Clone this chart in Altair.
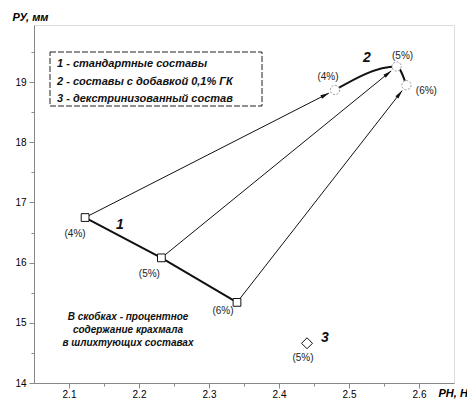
import math
import altair as alt
import pandas as pd

# ---- data ----
pct_labels = ["(4%)", "(5%)", "(6%)"]
s1_x = [2.123, 2.232, 2.340]      # 1 - стандартные составы
s1_y = [16.75, 16.08, 15.34]
s2_x = [2.480, 2.568, 2.582]      # 2 - составы с добавкой 0,1% ГК
s2_y = [18.87, 19.26, 18.95]
s3_x = [2.440]                    # 3 - декстринизованный состав
s3_y = [14.66]
s3_labels = ["(5%)"]

legend_lines = [
    "1 -  стандартные составы",
    "2 -  составы с добавкой 0,1% ГК",
    "3 -  декстринизованный состав",
]
note_lines = [
    "В скобках - процентное",
    "содержание крахмала",
    "в шлихтующих составах",
]

X_DOM = [2.05, 2.65]
Y_DOM = [14.0, 19.95]
W, H = 420, 358
PX_X = W / (X_DOM[1] - X_DOM[0])
PX_Y = H / (Y_DOM[1] - Y_DOM[0])
FONT = "Liberation Sans"

s1 = pd.DataFrame({"x": s1_x, "y": s1_y, "lab": pct_labels, "i": [0, 1, 2]})
s2 = pd.DataFrame({"x": s2_x, "y": s2_y, "lab": pct_labels, "i": [0, 1, 2]})
s3 = pd.DataFrame({"x": s3_x, "y": s3_y, "lab": s3_labels})

# arrows from series 1 to series 2 (tip stops a little before the target)
rows = []
for a, b, c, d in zip(s1_x, s1_y, s2_x, s2_y):
    dxp = (c - a) * PX_X
    dyp = -(d - b) * PX_Y
    L = math.hypot(dxp, dyp)
    ux, uy = dxp / L, dyp / L
    gap, back = 7.0, 4.0
    tip_x = c - ux * gap / PX_X
    tip_y = d + uy * gap / PX_Y
    hx = c - ux * (gap + back) / PX_X
    hy = d + uy * (gap + back) / PX_Y
    ang = math.degrees(math.atan2(ux, -uy)) % 360
    rows.append({"x": a, "y": b, "x2": tip_x, "y2": tip_y, "hx": hx, "hy": hy, "ang": ang})
arrows = pd.DataFrame(rows)

xs = alt.Scale(domain=X_DOM, nice=False, zero=False)
ys = alt.Scale(domain=Y_DOM, nice=False, zero=False)

x_minor_test = "abs(datum.value*10 - round(datum.value*10)) < 0.001"
y_minor_test = "datum.value % 1 === 0"

x_axis = alt.Axis(
    values=[round(2.10 + 0.05 * k, 2) for k in range(11)],
    labelExpr=f"{x_minor_test} ? format(datum.value, '.1f') : ''",
    tickSize={"condition": {"test": x_minor_test, "value": 5}, "value": 3},
    title="РН, Н", titleAngle=0, titleX=404, titleY=10, titleAlign="left",
    titleBaseline="middle", titleFontStyle="italic", titleFontWeight="bold",
    titleFontSize=11, titleFont=FONT, labelPadding=1, grid=False,
)
y_axis = alt.Axis(
    values=[14 + 0.5 * k for k in range(12)],
    labelExpr=f"{y_minor_test} ? format(datum.value, '.0f') : ''",
    tickSize={"condition": {"test": y_minor_test, "value": 5}, "value": 3},
    title="РУ, мм", titleAngle=0, titleX=-22, titleY=-8, titleAlign="left",
    titleBaseline="middle", titleFontStyle="italic", titleFontWeight="bold",
    titleFontSize=11, titleFont=FONT, labelPadding=3, grid=False,
)

X = lambda f="x": alt.X(f"{f}:Q", scale=xs, axis=x_axis)
Y = lambda f="y": alt.Y(f"{f}:Q", scale=ys, axis=y_axis)

arrow_lines = alt.Chart(arrows).mark_rule(color="#111", strokeWidth=1).encode(
    x=X(), y=Y(), x2="x2:Q", y2="y2:Q")
arrow_heads = alt.Chart(arrows).mark_point(
    shape="M0,-1L0.42,1L-0.42,1Z", filled=True, color="#111", size=80, opacity=1
).encode(x=X("hx"), y=Y("hy"), angle=alt.Angle("ang:Q", scale=None))

line1 = alt.Chart(s1).mark_line(color="#111", strokeWidth=2).encode(
    x=X(), y=Y(), order="i:Q")
line2 = alt.Chart(s2).mark_line(color="#111", strokeWidth=2, interpolate="monotone").encode(
    x=X(), y=Y(), order="i:Q")

pts1 = alt.Chart(s1).mark_point(shape="square", size=60, filled=True, fill="white",
                                stroke="#111", strokeWidth=1, opacity=1).encode(x=X(), y=Y())
pts2 = alt.Chart(s2).mark_point(shape="circle", size=85, filled=True, fill="white",
                                stroke="#999", strokeWidth=1, strokeDash=[2, 1.5],
                                opacity=1).encode(x=X(), y=Y())
pts3 = alt.Chart(s3).mark_point(shape="diamond", size=120, filled=True, fill="white",
                                stroke="#111", strokeWidth=1, opacity=1).encode(x=X(), y=Y())


def pct(df, idx, dx, dy):
    d = df[df.index == idx] if idx is not None else df
    return alt.Chart(d).mark_text(fontSize=10, font=FONT, color="#222", dx=dx, dy=dy).encode(
        x=X(), y=Y(), text="lab:N")


labels = [
    pct(s1, 0, -10, 16), pct(s1, 1, -12, 16), pct(s1, 2, -14, 9),
    pct(s2, 0, -7, -13), pct(s2, 1, 6, -11), pct(s2, 2, 20, 6),
    pct(s3, None, -4, 15),
]

series_nums = alt.Chart(pd.DataFrame({"t": ["1", "2", "3"], "px": [86, 333, 291], "py": [200, 33, 313]})
                        ).mark_text(fontSize=14, font=FONT, fontWeight="bold", fontStyle="italic",
                                    color="#111").encode(
    x=alt.X("px:Q", scale=None), y=alt.Y("py:Q", scale=None), text="t:N")

legend_box = alt.Chart(pd.DataFrame({"a": [0]})).mark_rect(
    fill="white", stroke="#222", strokeWidth=1, strokeDash=[6, 2]).encode(
    x=alt.value(16), x2=alt.value(228), y=alt.value(27), y2=alt.value(81))
legend_text = alt.Chart(pd.DataFrame({"t": legend_lines, "py": [39, 57, 74]})).mark_text(
    align="left", baseline="middle", fontSize=11, font=FONT, fontWeight="bold",
    fontStyle="italic", color="#111").encode(
    x=alt.value(23), y=alt.Y("py:Q", scale=None), text="t:N")
note_text = alt.Chart(pd.DataFrame({"t": note_lines, "py": [292, 305, 318]})).mark_text(
    align="center", baseline="middle", fontSize=10, font=FONT, fontWeight="bold",
    fontStyle="italic", color="#111").encode(
    x=alt.value(94), y=alt.Y("py:Q", scale=None), text="t:N")

chart = alt.layer(
    arrow_lines, arrow_heads, line1, line2, pts1, pts2, pts3, *labels,
    series_nums, legend_box, legend_text, note_text,
).properties(
    width=W, height=H,
    autosize=alt.AutoSizeParams(type="none"),
    padding={"left": 26, "top": 17, "right": 13, "bottom": 17},
).configure_view(stroke="#111", strokeWidth=1).configure_axis(
    domainColor="#111", domainWidth=1.5, tickColor="#111", tickWidth=1.3,
    labelColor="#333", labelFontSize=11, labelFont=FONT, titleColor="#111",
).configure(background="white")

chart.save("out.html", embed_options={"renderer": "svg", "actions": False})
